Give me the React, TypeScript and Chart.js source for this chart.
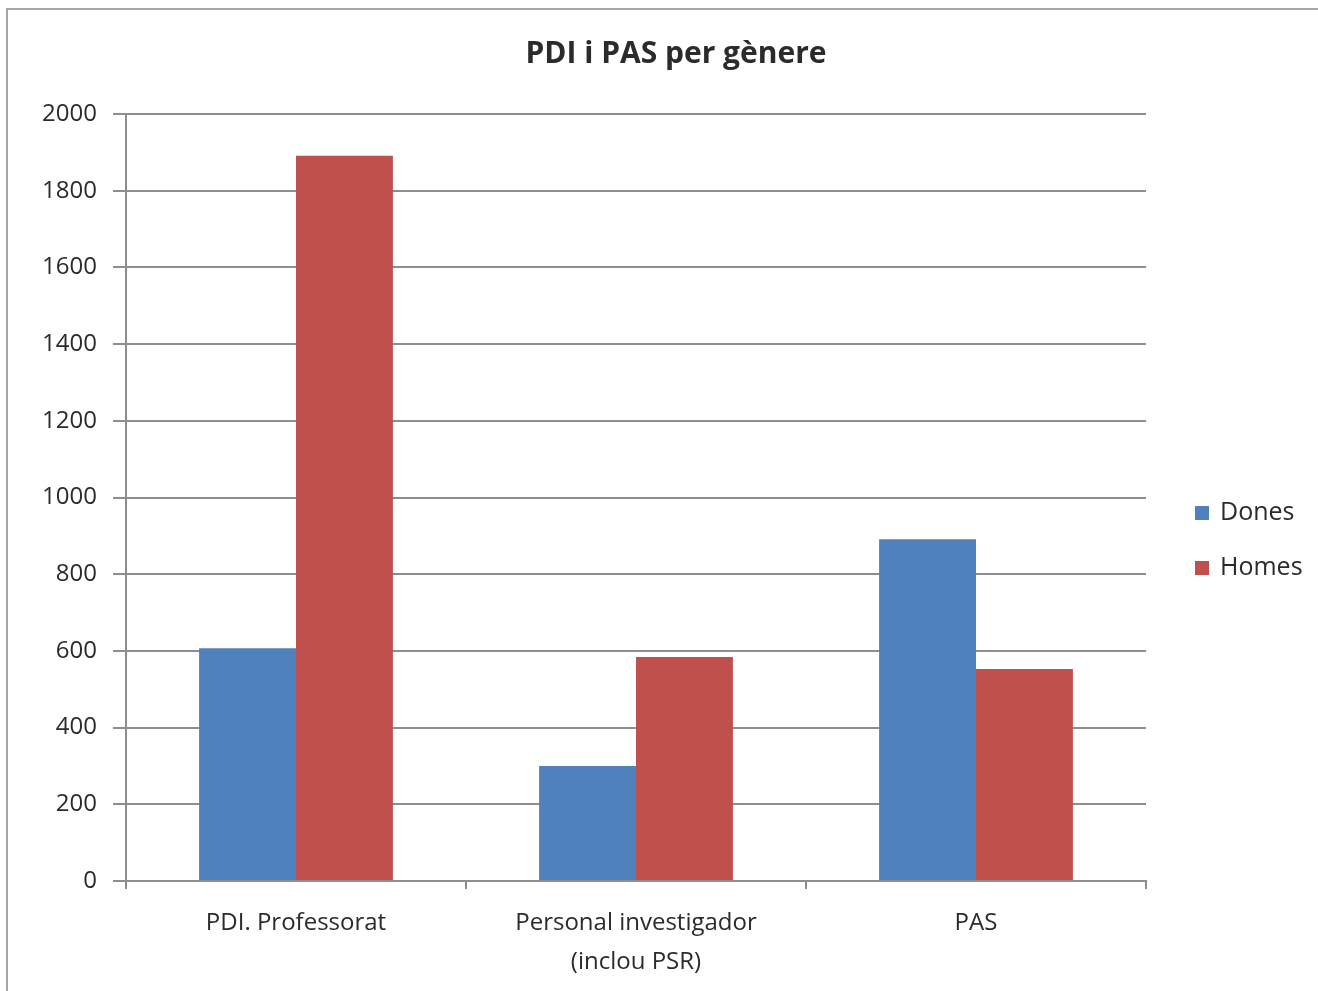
import React, { useEffect, useRef } from "react";
import { Chart, registerables } from "chart.js";

Chart.register(...registerables);

const titleText = "PDI i PAS per gènere";
const categories: (string | string[])[] = [
  "PDI. Professorat",
  ["Personal investigador", "(inclou PSR)"],
  "PAS",
];
const seriesNames = ["Dones", "Homes"];
const donesValues = [607, 300, 891];
const homesValues = [1891, 584, 553];
const seriesColors = ["#4F81BD", "#C0504D"];
const yMin = 0;
const yMax = 2000;
const yStep = 200;

const FONT = "'Open Sans', 'DejaVu Sans', sans-serif";
const GRID = "#8e8e8e";
const TEXT = "#2b2b2b";

const framePlugin = {
  id: "frame",
  beforeDraw(chart: any) {
    const ctx = chart.ctx;
    ctx.save();
    ctx.fillStyle = "#ffffff";
    ctx.fillRect(0, 0, chart.width, chart.height);
    ctx.strokeStyle = "#a6a6a6";
    ctx.lineWidth = 2;
    ctx.strokeRect(7, 9, chart.width + 20, chart.height + 20);
    ctx.restore();
  },
};

const titlePlugin = {
  id: "centerTitle",
  afterDraw(chart: any) {
    const ctx = chart.ctx;
    ctx.save();
    ctx.font = `bold 30px ${FONT}`;
    ctx.fillStyle = TEXT;
    ctx.textAlign = "center";
    ctx.textBaseline = "middle";
    ctx.fillText(titleText, chart.width / 2 + 17, 54);
    ctx.restore();
  },
};

const legendPlugin = {
  id: "sideLegend",
  afterDraw(chart: any) {
    const ctx = chart.ctx;
    const area = chart.chartArea;
    const cy = (area.top + area.bottom) / 2 + 43;
    const gap = 55;
    const n = chart.data.datasets.length;
    ctx.save();
    ctx.font = `25px ${FONT}`;
    ctx.textBaseline = "middle";
    ctx.textAlign = "left";
    chart.data.datasets.forEach((ds: any, i: number) => {
      const y = cy - ((n - 1) * gap) / 2 + i * gap;
      ctx.fillStyle = ds.backgroundColor;
      ctx.fillRect(area.right + 49, y - 7, 14, 14);
      ctx.fillStyle = TEXT;
      ctx.fillText(ds.label, area.right + 74, y);
    });
    ctx.restore();
  },
};

export default function App() {
  const ref = useRef<HTMLCanvasElement | null>(null);

  useEffect(() => {
    if (!ref.current) return;
    const chart = new Chart(ref.current, {
      type: "bar",
      data: {
        labels: categories,
        datasets: [
          {
            label: seriesNames[0],
            data: donesValues,
            backgroundColor: seriesColors[0],
            categoryPercentage: 0.57,
            barPercentage: 1.0,
          },
          {
            label: seriesNames[1],
            data: homesValues,
            backgroundColor: seriesColors[1],
            categoryPercentage: 0.57,
            barPercentage: 1.0,
          },
        ],
      },
      options: {
        animation: false,
        responsive: false,
        maintainAspectRatio: false,
        layout: { padding: { top: 114, right: 172, bottom: 0, left: 0 } },
        plugins: {
          legend: { display: false },
          tooltip: { enabled: false },
          title: { display: false },
        },
        scales: {
          x: {
            grid: {
              display: true,
              drawOnChartArea: false,
              drawTicks: true,
              tickLength: 8,
              color: GRID,
              lineWidth: 2,
              offset: true,
            },
            border: { display: true, color: GRID, width: 2 },
            ticks: {
              color: TEXT,
              padding: 15,
              maxRotation: 0,
              autoSkip: false,
              font: { family: FONT, size: 24, lineHeight: 1.62 },
            },
            afterFit(scale: any) {
              scale.height = 110;
            },
          },
          y: {
            min: yMin,
            max: yMax,
            ticks: {
              stepSize: yStep,
              color: TEXT,
              padding: 16,
              font: { family: FONT, size: 24 },
              callback: (v: any) => String(v),
            },
            grid: {
              color: GRID,
              lineWidth: 2,
              drawTicks: true,
              tickLength: 13,
            },
            border: { display: true, color: GRID, width: 2 },
            afterFit(scale: any) {
              scale.width = 126;
            },
          },
        },
      },
      plugins: [framePlugin, titlePlugin, legendPlugin],
    } as any);
    return () => chart.destroy();
  }, []);

  return (
    <div style={{ position: "fixed", left: 0, top: 0, width: 1318, height: 991, background: "#fff" }}>
      <canvas ref={ref} width={1318} height={991} style={{ width: 1318, height: 991, display: "block" }} />
    </div>
  );
}
